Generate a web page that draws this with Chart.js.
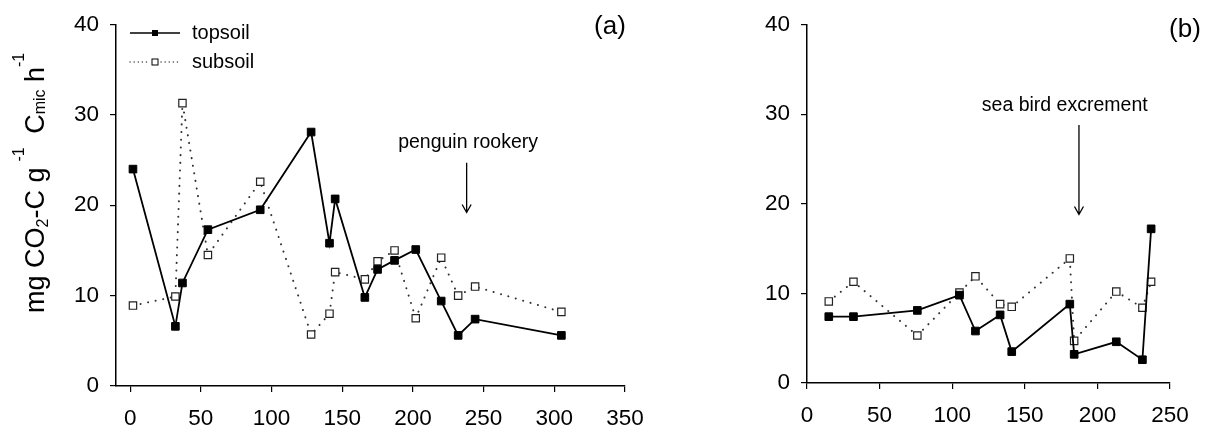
<!DOCTYPE html>
<html>
<head>
<meta charset="utf-8">
<script src="https://cdn.jsdelivr.net/npm/chart.js@4"></script>
<style>
  html, body { margin: 0; padding: 0; background: #fff; }
  #wrap { position: relative; width: 1211px; height: 428px; overflow: hidden; }
  #ca { position: absolute; left: 0; top: 0; }
  #cb { position: absolute; left: 660px; top: 0; }
</style>
</head>
<body>
<div id="wrap">
  <canvas id="ca" width="660" height="428"></canvas>
  <canvas id="cb" width="551" height="428"></canvas>
</div>
<script>
// ---------- data ----------
const seriesNames = ['topsoil', 'subsoil'];

// panel (a)
const aTopX = [2, 32, 37, 55, 92, 128, 141, 145, 166, 175, 187, 202, 220, 232, 244, 305];
const aTopY = [24.0, 6.6, 11.4, 17.3, 19.5, 28.1, 15.8, 20.7, 9.8, 12.9, 13.9, 15.1, 9.4, 5.6, 7.4, 5.6];
const aSubX = [2, 32, 37, 55, 92, 128, 141, 145, 166, 175, 187, 202, 220, 232, 244, 305];
const aSubY = [8.9, 9.9, 31.3, 14.5, 22.6, 5.7, 8.0, 12.6, 11.8, 13.8, 15.0, 7.5, 14.2, 10.0, 11.0, 8.2];

// panel (b)
const bTopX = [15, 32, 76, 105, 116, 133, 141, 181, 184, 213, 231, 237];
const bTopY = [7.4, 7.4, 8.1, 9.8, 5.8, 7.6, 3.5, 8.8, 3.2, 4.6, 2.6, 17.2];
const bSubX = [15, 32, 76, 105, 116, 133, 141, 181, 184, 213, 231, 237];
const bSubY = [9.1, 11.3, 5.3, 10.1, 11.9, 8.8, 8.5, 13.9, 4.7, 10.2, 8.4, 11.3];

// ticks
const xTicksA = [0, 50, 100, 150, 200, 250, 300, 350];
const xTicksB = [0, 50, 100, 150, 200, 250];
const yTicks = [0, 10, 20, 30, 40];

// annotations
const annA = { label: '(a)', note: 'penguin rookery', noteX: 239, noteY: 26.9, arrowX: 238, arrowTop: 24.7, arrowBottom: 19.2 };
const annB = { label: '(b)', note: 'sea bird excrement', noteX: 177.5, noteY: 30.9, arrowX: 187.3, arrowTop: 28.8, arrowBottom: 18.8 };

// ---------- helpers ----------
const FONT = "'Liberation Sans', Arial, sans-serif";
const zip = (xs, ys) => xs.map((x, i) => ({ x: x, y: ys[i] }));

function datasets(tx, ty, sx, sy) {
  return [
    { label: seriesNames[0], data: zip(tx, ty), borderColor: '#000', backgroundColor: '#000',
      borderWidth: 1.8, pointStyle: 'rect', pointRadius: 5.4, pointBorderWidth: 1,
      pointBorderColor: '#000', pointBackgroundColor: '#000', tension: 0, order: 1 },
    { label: seriesNames[1], data: zip(sx, sy), borderColor: '#333', backgroundColor: '#fff',
      borderWidth: 2, borderDash: [0.1, 7.6], borderCapStyle: 'round', pointStyle: 'rect', pointRadius: 5.2,
      pointBorderWidth: 1.2, pointBorderColor: '#222', pointBackgroundColor: '#fff', tension: 0, order: 2 }
  ];
}

function drawRich(ctx, parts, x, y) {
  let cx = x;
  for (const p of parts) {
    ctx.font = p.s + 'px ' + FONT;
    ctx.fillText(p.t, cx, y + (p.dy || 0));
    cx += ctx.measureText(p.t).width + (p.gap || 0);
  }
}

const annotPlugin = {
  id: 'annot',
  afterDraw(chart, args, opts) {
    const ctx = chart.ctx;
    const xs = chart.scales.x, ys = chart.scales.y;
    ctx.save();
    ctx.fillStyle = '#000';
    ctx.strokeStyle = '#000';
    // panel label
    ctx.font = '26px ' + FONT;
    ctx.textAlign = 'center';
    ctx.textBaseline = 'middle';
    ctx.fillText(opts.ann.label, opts.labelPos[0], opts.labelPos[1]);
    // note text
    ctx.font = '19.5px ' + FONT;
    ctx.fillText(opts.ann.note, xs.getPixelForValue(opts.ann.noteX), ys.getPixelForValue(opts.ann.noteY));
    // arrow
    const ax = xs.getPixelForValue(opts.ann.arrowX);
    const at = ys.getPixelForValue(opts.ann.arrowTop);
    const ab = ys.getPixelForValue(opts.ann.arrowBottom);
    ctx.lineWidth = 1.3;
    ctx.beginPath();
    ctx.moveTo(ax, at); ctx.lineTo(ax, ab);
    ctx.moveTo(ax - 4.5, ab - 8); ctx.lineTo(ax, ab); ctx.lineTo(ax + 4.5, ab - 8);
    ctx.stroke();

    if (opts.legend) {
      ctx.textAlign = 'left';
      ctx.font = '20px ' + FONT;
      const L = opts.legend;
      // topsoil
      ctx.lineWidth = 1.6;
      ctx.setLineDash([]);
      ctx.beginPath(); ctx.moveTo(L.x0, L.y0); ctx.lineTo(L.x1, L.y0); ctx.stroke();
      ctx.fillRect(L.xm - 3, L.y0 - 3, 6, 6);
      ctx.fillText(seriesNames[0], L.xt, L.y0);
      // subsoil
      ctx.lineWidth = 1.4;
      ctx.strokeStyle = '#444';
      ctx.lineCap = 'round';
      ctx.setLineDash([0.1, 4]);
      ctx.beginPath(); ctx.moveTo(L.x0, L.y1); ctx.lineTo(L.xm - 5, L.y1);
      ctx.moveTo(L.xm + 6, L.y1); ctx.lineTo(L.x1, L.y1); ctx.stroke();
      ctx.setLineDash([]);
      ctx.lineCap = 'butt';
      ctx.strokeStyle = '#000';
      ctx.lineWidth = 1;
      ctx.fillStyle = '#fff';
      ctx.fillRect(L.xm - 3, L.y1 - 3, 6, 6);
      ctx.strokeRect(L.xm - 3, L.y1 - 3, 6, 6);
      ctx.fillStyle = '#000';
      ctx.fillText(seriesNames[1], L.xt, L.y1);
    }

    if (opts.ytitle) {
      ctx.save();
      ctx.translate(opts.ytitle.x, opts.ytitle.y);
      ctx.rotate(-Math.PI / 2);
      ctx.textAlign = 'left';
      ctx.textBaseline = 'alphabetic';
      const big = 27, small = 16;
      drawRich(ctx, [
        { t: 'mg CO', s: big },
        { t: '2', s: small, dy: 4 },
        { t: '-C g', s: big, gap: 6 },
        { t: '-1', s: small, dy: -20, gap: 6 },
        { t: ' C', s: big },
        { t: 'mic', s: small, dy: 1 },
        { t: ' h', s: big },
        { t: '-1', s: small, dy: -20 }
      ], 0, 0);
      ctx.restore();
    }
    ctx.restore();
  }
};

function makeOptions(cfg) {
  return {
    responsive: false,
    animation: false,
    devicePixelRatio: 1,
    layout: { padding: cfg.padding },
    plugins: {
      legend: { display: false },
      tooltip: { enabled: false },
      annot: cfg.annot
    },
    scales: {
      x: {
        type: 'linear', min: cfg.xmin, max: cfg.xmax,
        afterBuildTicks: s => { s.ticks = cfg.xticks.map(v => ({ value: v })); },
        afterFit: s => { s.height = cfg.xh; },
        border: { display: true, color: '#000', width: 1.5 },
        grid: { display: true, drawOnChartArea: false, drawTicks: true, tickLength: 6, color: '#000', lineWidth: 1.2 },
        ticks: { color: '#000', font: { family: FONT, size: 22.5 }, padding: 13, maxRotation: 0, autoSkip: false }
      },
      y: {
        type: 'linear', min: 0, max: 40,
        afterBuildTicks: s => { s.ticks = yTicks.map(v => ({ value: v })); },
        afterFit: s => { s.width = cfg.yw; },
        border: { display: true, color: '#000', width: 1.5 },
        grid: { display: true, drawOnChartArea: false, drawTicks: true, tickLength: 6, color: '#000', lineWidth: 1.2 },
        ticks: { color: '#000', font: { family: FONT, size: 22.5 }, padding: 11 }
      }
    }
  };
}

new Chart(document.getElementById('ca'), {
  type: 'line',
  data: { datasets: datasets(aTopX, aTopY, aSubX, aSubY) },
  options: makeOptions({
    padding: { left: 55, right: 35, top: 23, bottom: 0 },
    xmin: -10, xmax: 350, xticks: xTicksA, xh: 42, yw: 61,
    annot: {
      ann: annA, labelPos: [610, 27],
      legend: { x0: 130, x1: 180, xm: 155, xt: 192, y0: 33, y1: 62 },
      ytitle: { x: 44, y: 313 }
    }
  }),
  plugins: [annotPlugin]
});

new Chart(document.getElementById('cb'), {
  type: 'line',
  data: { datasets: datasets(bTopX, bTopY, bSubX, bSubY) },
  options: makeOptions({
    padding: { left: 80, right: 41, top: 21, bottom: 0 },
    xmin: 0, xmax: 250, xticks: xTicksB, xh: 45, yw: 67,
    annot: { ann: annB, labelPos: [525, 30] }
  }),
  plugins: [annotPlugin]
});
</script>
</body>
</html>
